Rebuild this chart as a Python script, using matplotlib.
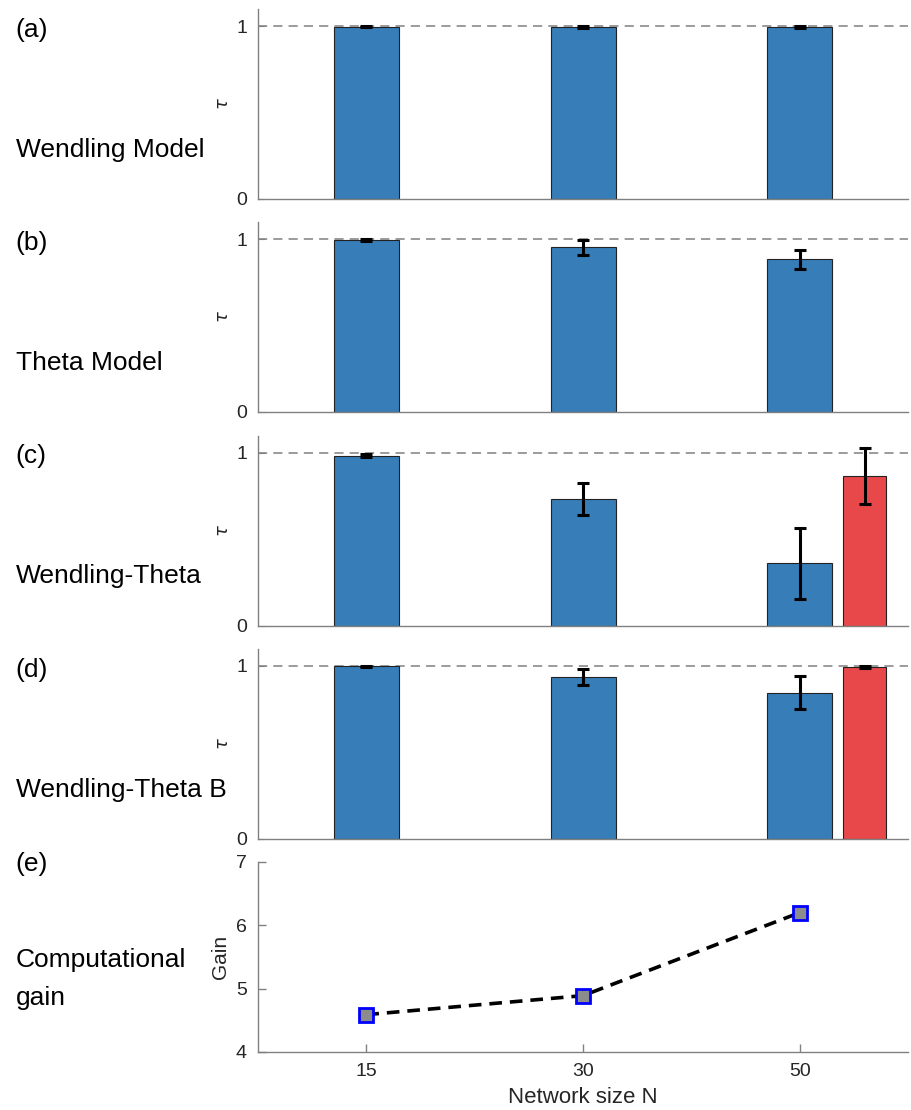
import numpy as np
import matplotlib
matplotlib.use("Agg")
import matplotlib.pyplot as plt

plt.rcParams["font.family"] = ["Liberation Sans", "DejaVu Sans"]

# data
sizes = [15, 30, 50]
panel_letters = ["(a)", "(b)", "(c)", "(d)"]
model_names = ["Wendling Model", "Theta Model", "Wendling-Theta", "Wendling-Theta B"]
tau_mean = [
    [0.997, 0.996, 0.996],
    [0.994, 0.953, 0.884],
    [0.983, 0.734, 0.360],
    [0.997, 0.936, 0.844],
]
tau_err = [
    [0.004, 0.004, 0.004],
    [0.006, 0.044, 0.055],
    [0.010, 0.093, 0.205],
    [0.004, 0.046, 0.095],
]
# extra (red) bars at N=50 in panels c and d
extra_mean = {2: 0.867, 3: 0.994}
extra_err = {2: 0.162, 3: 0.005}
gain = [4.59, 4.89, 6.20]

blue = "#377DB8"
red = "#E8484A"
axis_col = "#808080"
text_col = "#262626"

fig = plt.figure(figsize=(9.11, 11.10), dpi=100)
W, H = 911, 1110
left_px, right_px = 258, 908
tops = [9, 222, 435.5, 648.5, 862]
heights = 190

def make_ax(top):
    return fig.add_axes([left_px / W, 1 - (top + heights) / H,
                         (right_px - left_px) / W, heights / H])

x = np.arange(1, 4)
for i in range(4):
    ax = make_ax(tops[i])
    ax.bar(x, tau_mean[i], width=0.3, color=blue, edgecolor="#222222",
           linewidth=0.8, zorder=2)
    ax.errorbar(x, tau_mean[i], yerr=tau_err[i], fmt="none", ecolor="black",
                elinewidth=2.2, capsize=4, capthick=2.2, zorder=3)
    if i in extra_mean:
        ax.bar([3.3], [extra_mean[i]], width=0.2, color=red,
               edgecolor="#222222", linewidth=0.8, zorder=2)
        ax.errorbar([3.3], [extra_mean[i]], yerr=[extra_err[i]], fmt="none",
                    ecolor="black", elinewidth=2.2, capsize=4, capthick=2.2,
                    zorder=3)
    ax.axhline(1, color="#808080", linestyle=(0, (6, 4)), linewidth=1.1, zorder=1)
    ax.set_xlim(0.5, 3.5)
    ax.set_ylim(0, 1.1)
    ax.set_yticks([0, 1])
    ax.set_xticks([])
    ax.tick_params(axis="y", direction="in", length=5, color=axis_col,
                   labelsize=14, labelcolor=text_col, pad=8)
    ax.set_ylabel(r"$\tau$", fontsize=13, color=text_col, labelpad=3)
    for s in ["top", "right"]:
        ax.spines[s].set_visible(False)
    for s in ["left", "bottom"]:
        ax.spines[s].set_color(axis_col)
        ax.spines[s].set_linewidth(1.0)
    top = tops[i]
    fig.text(15 / W, 1 - (top + 21) / H, panel_letters[i], fontsize=19,
             va="center", ha="left", color="black")
    fig.text(16 / W, 1 - (top + 141) / H, model_names[i], fontsize=19,
             va="center", ha="left", color="black")

# panel e: computational gain
ax = make_ax(tops[4])
ax.plot(x, gain, color="black", linestyle=(0, (3.5, 2.2)), linewidth=2.6,
        marker="s", markersize=10, markerfacecolor="#8c8c8c",
        markeredgecolor="#0000ff", markeredgewidth=2)
ax.set_xlim(0.5, 3.5)
ax.set_ylim(4, 7)
ax.set_yticks([4, 5, 6, 7])
ax.set_xticks(x)
ax.set_xticklabels([str(n) for n in sizes])
ax.tick_params(axis="both", direction="in", length=6, width=1, color=axis_col,
               labelsize=14, labelcolor=text_col, pad=8)
ax.set_ylabel("Gain", fontsize=15, color=text_col, labelpad=4)
ax.set_xlabel("Network size N", fontsize=16, color=text_col, labelpad=5)
for s in ["top", "right"]:
    ax.spines[s].set_visible(False)
for s in ["left", "bottom"]:
    ax.spines[s].set_color(axis_col)
    ax.spines[s].set_linewidth(1.0)
fig.text(15 / W, 1 - 864 / H, "(e)", fontsize=19, va="center", ha="left")
fig.text(16 / W, 1 - 979 / H, "Computational\ngain", fontsize=19,
         va="center", ha="left", linespacing=1.75)

plt.savefig("out.png", dpi=100)
